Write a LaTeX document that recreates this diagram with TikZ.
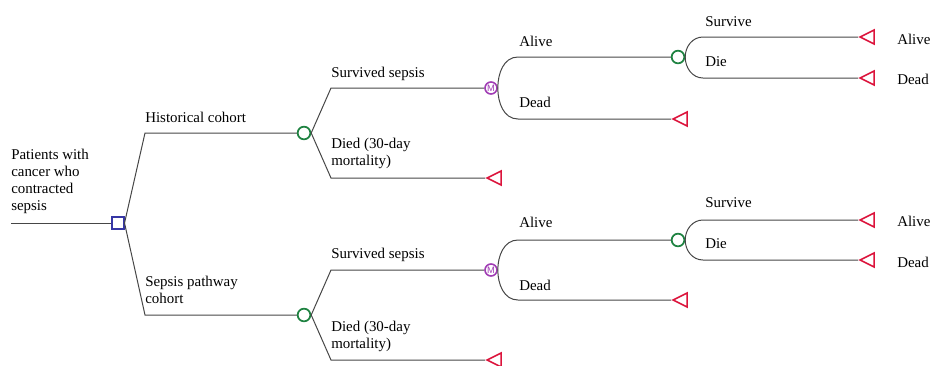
\documentclass[tikz,border=0pt]{standalone}
\usepackage{fontspec}
\setmainfont{Liberation Serif}
\setsansfont{Liberation Sans}
\usepackage{xcolor}
\usepackage{tikz}
\usetikzlibrary{shapes.geometric}
\definecolor{decblue}{RGB}{55,55,165}
\definecolor{chgreen}{RGB}{30,130,65}
\definecolor{mkpurple}{RGB}{160,60,180}
\definecolor{termred}{RGB}{220,20,60}
\definecolor{linegray}{RGB}{70,70,70}

\begin{document}
\begin{tikzpicture}[x=0.75pt, y=-0.75pt,
  branch/.style={draw=linegray, line width=0.75pt},
  decision/.style={draw=decblue, line width=1.3pt, fill=white, minimum size=8.5pt, inner sep=0pt},
  chance/.style={circle, draw=chgreen, line width=1.3pt, fill=white, minimum size=9.5pt, inner sep=0pt},
  markov/.style={circle, draw=mkpurple, line width=1.2pt, fill=white, minimum size=9pt, inner sep=0pt,
    text=mkpurple, font=\sffamily\fontsize{7}{7}\selectfont},
  term/.style={isosceles triangle, isosceles triangle stretches, shape border rotate=180,
    draw=termred, line width=1.2pt, minimum width=10.5pt, minimum height=10.5pt, inner sep=0pt, anchor=apex},
  lbl/.style={inner sep=0pt, anchor=base west, font=\fontsize{11.2}{12.75}\selectfont},
  mlbl/.style={lbl, anchor=north west, align=left}]
  \useasboundingbox (0,0) rectangle (931,365);

  % root and cohorts
  \coordinate (start) at (11,223);
  \node[decision] (dec) at (118,223) {};
  \node[mlbl] (pat) at (11,148.5) {Patients with\\cancer who\\contracted\\sepsis};
  \node[chance] (c1) at (304,133) {};
  \node[chance] (c2) at (304,315) {};
  \draw[branch] (start) -- (dec.west);
  \draw[branch] (dec.east) -- (c1.west -| 145,0) -- (c1.west);
  \draw[branch] (dec.east) -- (c2.west -| 145,0) -- (c2.west);
  \node[lbl] (hist) at (145,122) {Historical cohort};
  \node[mlbl] (path) at (145,275.5) {Sepsis pathway\\cohort};

  % historical cohort
  \node[markov] (m1) at (491,88) {M};
  \node[term] (d1) at (485,178) {};
  \draw[branch] (c1.east) -- (m1.west -| 331,0) -- (m1.west);
  \draw[branch] (c1.east) -- (d1.apex -| 331,0) -- (d1.apex);
  \node[lbl] (surv1) at (331,77) {Survived sepsis};
  \node[mlbl] (died1) at (331,138) {Died (30-day\\mortality)};
  \node[chance] (c3) at (678,57) {};
  \node[term] (d3) at (671,119) {};
  \draw[branch] (m1.east) to[out=90,in=180] (c3.west -| 518,0) -- (c3.west);
  \draw[branch] (m1.east) to[out=-90,in=180] (d3.apex -| 518,0) -- (d3.apex);
  \node[lbl] (al1) at (519,46) {Alive};
  \node[lbl] (de1) at (519,107) {Dead};
  \node[term] (t1) at (858,37) {};
  \node[term] (t2) at (858,78) {};
  \draw[branch] (c3.east) to[out=90,in=180] (t1.apex -| 703,0) -- (t1.apex);
  \draw[branch] (c3.east) to[out=-90,in=180] (t2.apex -| 703,0) -- (t2.apex);
  \node[lbl] (sv1) at (705,26) {Survive};
  \node[lbl] (di1) at (705,66) {Die};
  \node[lbl] (ra1) at (897,44) {Alive};
  \node[lbl] (rd1) at (897,84) {Dead};

  % sepsis pathway cohort
  \node[markov] (m2) at (491,270) {M};
  \node[term] (d2) at (485,360) {};
  \draw[branch] (c2.east) -- (m2.west -| 331,0) -- (m2.west);
  \draw[branch] (c2.east) -- (d2.apex -| 331,0) -- (d2.apex);
  \node[lbl] (surv2) at (331,258) {Survived sepsis};
  \node[mlbl] (died2) at (331,320.4) {Died (30-day\\mortality)};
  \node[chance] (c4) at (678,240) {};
  \node[term] (d4) at (671,300) {};
  \draw[branch] (m2.east) to[out=90,in=180] (c4.west -| 518,0) -- (c4.west);
  \draw[branch] (m2.east) to[out=-90,in=180] (d4.apex -| 518,0) -- (d4.apex);
  \node[lbl] (al2) at (519,227) {Alive};
  \node[lbl] (de2) at (519,290) {Dead};
  \node[term] (t3) at (858,220) {};
  \node[term] (t4) at (858,260) {};
  \draw[branch] (c4.east) to[out=90,in=180] (t3.apex -| 703,0) -- (t3.apex);
  \draw[branch] (c4.east) to[out=-90,in=180] (t4.apex -| 703,0) -- (t4.apex);
  \node[lbl] (sv2) at (705,207) {Survive};
  \node[lbl] (di2) at (705,248) {Die};
  \node[lbl] (ra2) at (897,226) {Alive};
  \node[lbl] (rd2) at (897,267) {Dead};
\end{tikzpicture}
\end{document}
